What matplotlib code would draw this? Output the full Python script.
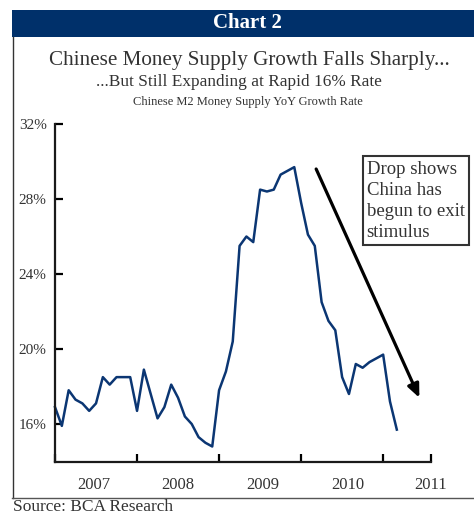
import matplotlib
matplotlib.use('Agg')
from matplotlib import pyplot as plt
from matplotlib.lines import Line2D
from matplotlib.patches import Rectangle

plt.rcParams['font.family'] = ['Liberation Serif', 'DejaVu Serif']

# months since Dec 2006 (Dec 2006 .. Feb 2011)
m2Growth = [16.9,
            15.9, 17.8, 17.3, 17.1, 16.7, 17.1, 18.5, 18.1, 18.5, 18.5, 18.5, 16.7,
            18.9, 17.6, 16.3, 16.9, 18.1, 17.4, 16.4, 16.0, 15.3, 15.0, 14.8, 17.8,
            18.8, 20.4, 25.5, 26.0, 25.7, 28.5, 28.4, 28.5, 29.3, 29.5, 29.7, 27.8,
            26.1, 25.5, 22.5, 21.5, 21.0, 18.5, 17.6, 19.2, 19.0, 19.3, 19.5, 19.7,
            17.2, 15.7]
months = list(range(len(m2Growth)))

yTicks = [16, 20, 24, 28, 32]
yTickLabels = ['16%', '20%', '24%', '28%', '32%']
xTicks = [0, 12, 24, 36, 48, 55]
yearPos = [5.7, 18, 30.4, 42.8, 55]
yearLabels = ['2007', '2008', '2009', '2010', '2011']

navy = '#0b3673'
textGray = '#333333'

fig = plt.figure(figsize=(4.74, 5.14), dpi=100)
W, H = 474, 514

# title banner
fig.add_artist(Rectangle((12 / W, 1 - 37 / H), 1 - 12 / W, 27 / H,
                         transform=fig.transFigure, color='#00306a', lw=0))
fig.text(247 / W, 1 - 23.5 / H, 'Chart 2', color='white', fontsize=15,
         fontweight='bold', ha='center', va='center')

# frame lines
fig.add_artist(Line2D([12.5 / W, 12.5 / W], [1 - 37 / H, 1 - 498 / H],
                      transform=fig.transFigure, color='#333333', lw=1))
fig.add_artist(Line2D([12 / W, 1], [1 - 498 / H, 1 - 498 / H],
                      transform=fig.transFigure, color='#555555', lw=1))

# titles
fig.text(249 / W, 1 - 60 / H, 'Chinese Money Supply Growth Falls Sharply...',
         fontsize=15.2, color=textGray, ha='center', va='center')
fig.text(239 / W, 1 - 82 / H, '...But Still Expanding at Rapid 16% Rate',
         fontsize=12.4, color=textGray, ha='center', va='center')
fig.text(248 / W, 1 - 102 / H, 'Chinese M2 Money Supply YoY Growth Rate',
         fontsize=9, color=textGray, ha='center', va='center')
fig.text(13 / W, 1 - 507 / H, 'Source: BCA Research', fontsize=12.5,
         color=textGray, ha='left', va='center')

ax = fig.add_axes([55 / W, 1 - 461.5 / H, (431 - 55) / W, (461.5 - 124) / H])
ax.plot(months, m2Growth, color=navy, linewidth=1.8, clip_on=False)

ax.set_xlim(0, 55)
ax.set_ylim(14, 32)
for side in ['top', 'right']:
    ax.spines[side].set_visible(False)
for side in ['left', 'bottom']:
    ax.spines[side].set_linewidth(1.6)
    ax.spines[side].set_color('#1a1a1a')

ax.set_yticks(yTicks)
ax.set_yticklabels(yTickLabels)
ax.tick_params(axis='y', direction='in', length=6, width=1.6,
               labelsize=11, labelcolor=textGray, pad=6)
ax.xaxis.remove_overlapping_locs = False
ax.set_xticks(xTicks)
ax.set_xticklabels([])
ax.tick_params(axis='x', which='major', direction='in', length=6, width=1.6)
ax.set_xticks(yearPos, minor=True)
ax.set_xticklabels(yearLabels, minor=True)
ax.tick_params(axis='x', which='minor', length=0, labelsize=12,
               labelcolor=textGray, pad=11)

# annotation arrow and box
ax.annotate('', xy=(53.3, 17.4), xytext=(38.2, 29.6),
            arrowprops=dict(arrowstyle='-|>,head_length=0.8,head_width=0.35',
                            color='black', lw=2.3, shrinkA=0, shrinkB=0),
            annotation_clip=False)
ax.text(45.6, 30.05, 'Drop shows\nChina has\nbegun to exit\nstimulus',
        fontsize=13.5, color=textGray, ha='left', va='top', linespacing=1.32,
        clip_on=False,
        bbox=dict(boxstyle='square,pad=0.22', facecolor='white',
                  edgecolor='#333333', lw=1.5))

plt.savefig('out.png', dpi=100)
